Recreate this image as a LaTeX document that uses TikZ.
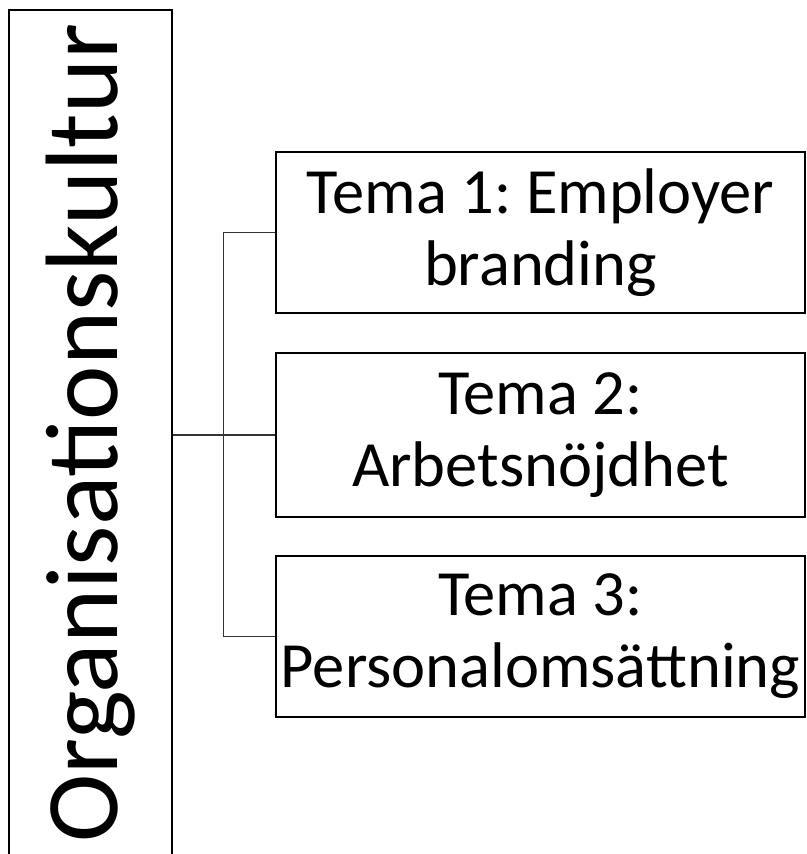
\documentclass[tikz,border=0pt]{standalone}
\usepackage{fontspec}
\setmainfont{Carlito}
\frenchspacing
\begin{document}
\begin{tikzpicture}[x=1pt,y=-1pt,
  frame/.style={draw=black,line width=1.2pt},
  theme/.style={frame,minimum width=529pt,inner sep=0pt,align=center,
    font=\fontsize{64.5}{72}\selectfont},
  conn/.style={draw=black!80,line width=1.2pt}]
\useasboundingbox (0,0) rectangle (806,854);
\clip (0,0) rectangle (806,854);
% vertical title box, open at the bottom edge of the page
\node[frame,rotate=90,minimum width=846pt,minimum height=163pt,inner sep=0pt,
  font=\fontsize{103}{120}\selectfont] (org) at (90.5,433) {Organisationskultur};
% theme boxes
\node[theme,minimum height=161pt] (b1) at (540.5,232.5) {Tema 1: Employer\\branding};
\node[theme,minimum height=164pt] (b2) at (540.5,435) {Tema 2:\\Arbetsnöjdhet};
\node[theme,minimum height=161pt] (b3) at (540.5,636.5) {Tema 3:\\Personalomsättning};
% connectors
\draw[conn] (org.south |- b2.west) -- (b2.west);
\draw[conn] (b1.west) -- ++(-52,0) |- (b3.west);
\end{tikzpicture}
\end{document}
